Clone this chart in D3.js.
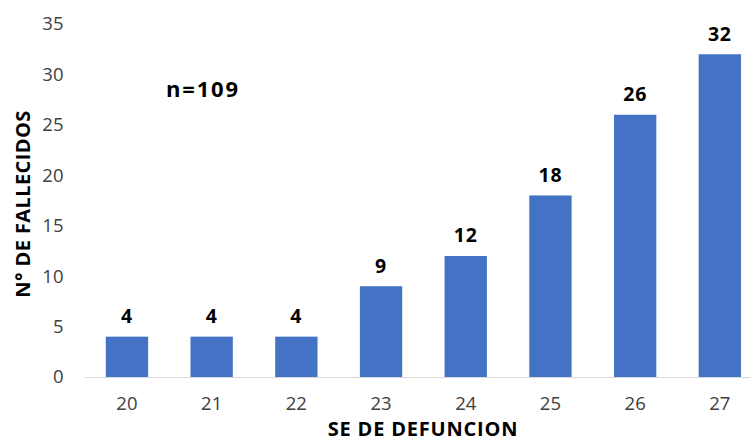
<!DOCTYPE html>
<html>
<head>
<meta charset="utf-8">
<script src="https://cdn.jsdelivr.net/npm/d3@7"></script>
<style>
  html, body { margin: 0; padding: 0; background: #fff; }
  svg { display: block; font-family: "Open Sans", "Noto Sans", sans-serif; }
</style>
</head>
<body>
<svg id="chart" width="750" height="439"></svg>
<script>
// Deaths per epidemiological week
const weeks = ["20", "21", "22", "23", "24", "25", "26", "27"];
const deaths = [4, 4, 4, 9, 12, 18, 26, 32];
const yTicks = [0, 5, 10, 15, 20, 25, 30, 35];
const xTitle = "SE DE DEFUNCION";
const yTitle = "N° DE FALLECIDOS";
const totalNote = "n=109";

const svg = d3.select("#chart");
const fontStack = "'Open Sans', 'Noto Sans', sans-serif";

const x = d3.scaleBand()
  .domain(weeks)
  .range([84.6, 762.2])
  .paddingInner(0.5)
  .paddingOuter(0.25);

const y = d3.scaleLinear()
  .domain([0, 35])
  .range([377, 24]);

// Y tick labels (no axis line, no gridlines)
const yAxis = d3.axisLeft(y).tickValues(yTicks).tickSize(0).tickPadding(0);
const gy = svg.append("g").attr("transform", "translate(63.5,0)").call(yAxis);
gy.select(".domain").remove();
gy.selectAll("text")
  .attr("fill", "#404040")
  .style("font-size", "18.5px")
  .style("font-family", fontStack);

// Bars
svg.append("g").selectAll("rect")
  .data(deaths)
  .join("rect")
  .attr("x", (d, i) => x(weeks[i]))
  .attr("width", x.bandwidth())
  .attr("y", d => y(d))
  .attr("height", d => y(0) - y(d))
  .attr("fill", "#4472C4");

// X axis baseline and labels
const xAxis = d3.axisBottom(x).tickSize(0).tickPadding(19.6);
const gx = svg.append("g").attr("transform", `translate(0,${y(0)})`).call(xAxis);
gx.select(".domain").attr("stroke", "#d9d9d9").attr("stroke-width", 1.2)
  .attr("d", `M${x.range()[0]},0.5H${x.range()[1]}`);
gx.selectAll("text")
  .attr("fill", "#404040")
  .style("font-size", "18.5px")
  .style("font-family", fontStack);

// Value labels
svg.append("g").selectAll("text")
  .data(deaths)
  .join("text")
  .attr("x", (d, i) => x(weeks[i]) + x.bandwidth() / 2)
  .attr("y", d => y(d) - 13.5)
  .attr("text-anchor", "middle")
  .attr("font-size", "19.5px")
  .attr("font-weight", "bold")
  .attr("letter-spacing", "0.8px")
  .attr("fill", "#000")
  .text(d => d);

// Axis titles
svg.append("text")
  .attr("x", 423)
  .attr("y", 435.5)
  .attr("text-anchor", "middle")
  .attr("font-size", "20px")
  .attr("font-weight", "bold")
  .attr("letter-spacing", "0.8px")
  .attr("fill", "#000")
  .text(xTitle);

svg.append("text")
  .attr("transform", "translate(30,204) rotate(-90)")
  .attr("text-anchor", "middle")
  .attr("font-size", "20px")
  .attr("font-weight", "bold")
  .attr("letter-spacing", "0.4px")
  .attr("fill", "#000")
  .text(yTitle);

// Total count note
svg.append("text")
  .attr("x", 166)
  .attr("y", 97)
  .attr("font-size", "22px")
  .attr("font-weight", "bold")
  .attr("letter-spacing", "1.8px")
  .attr("fill", "#000")
  .text(totalNote);
</script>
</body>
</html>
